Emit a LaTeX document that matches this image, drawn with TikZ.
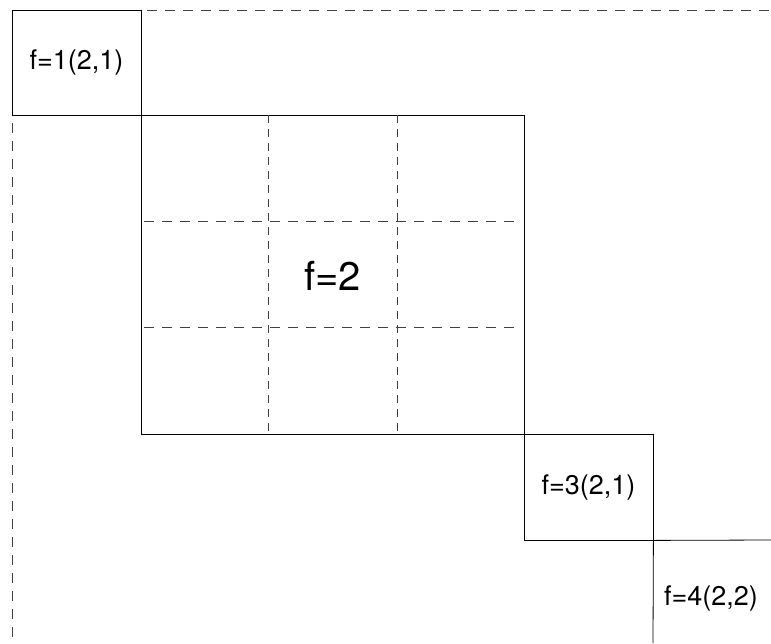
\documentclass[tikz,border=0pt]{standalone}
\usepackage{fontspec}
\setmainfont{TeX Gyre Heros}
\usetikzlibrary{calc}
\begin{document}
\begin{tikzpicture}[x=1pt,y=-1pt,
  cell/.style={draw,line width=0.8pt,rectangle,inner sep=0pt,font=\fontsize{27}{30}\selectfont},
  label/.style={inner sep=0pt,font=\fontsize{27}{30}\selectfont},
  gridline/.style={draw=black!75,line width=0.8pt,dash pattern=on 10pt off 8pt},
  edge/.style={draw,line width=0.8pt}]
\useasboundingbox (0,0) rectangle (771,643);

% outer dashed border
\coordinate (tr) at (771,10);
\coordinate (bl) at (12,643);
\draw[gridline,dash phase=12pt] (141,10) -- (tr);
\draw[gridline,dash phase=10pt] (12,115) -- (bl);

% blocks along the diagonal
\node[cell,minimum width=129pt,minimum height=105pt] (f1) at (76.5,62.5) {f=1(2,1)};
\node[cell,minimum width=383pt,minimum height=319pt] (f2) at (332.5,274.5) {};
\node[cell,minimum width=129pt,minimum height=106pt] (f3) at (588.5,487) {f=3(2,1)};

% inner grid of the middle block
\draw[gridline,dash pattern=on 8pt off 6pt] (268,115) -- (268,434);
\draw[gridline,dash pattern=on 8pt off 6pt] (397,115) -- (397,434);
\draw[gridline,dash phase=15pt] (141,221) -- (517,221);
\draw[gridline,dash phase=15pt] (141,327) -- (517,327);
\node[label,font=\fontsize{40}{44}\selectfont] (f2lab) at (332.5,276) {f=2};

% last, open block
\coordinate (f4b) at (653,643);
\coordinate (f4r) at (771,540);
\draw[edge] (f3.south east) -- (f4b);
\draw[edge] (f3.south east) -- (f4r);
\node[label] (f4) at (711,598) {f=4(2,2)};
\end{tikzpicture}
\end{document}
